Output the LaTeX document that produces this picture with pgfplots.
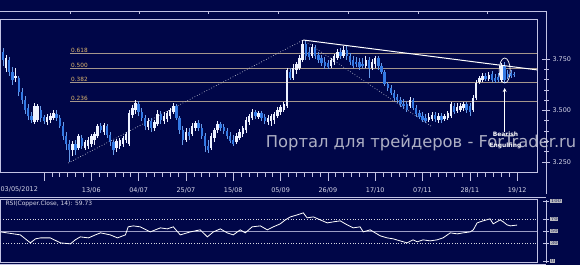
\documentclass[border=0pt]{standalone}
\usepackage{pgfplots}
\pgfplotsset{compat=1.18}
\usepackage{pgfplotstable}
\usepackage{fontspec}
\setmainfont{DejaVu Sans}
\usetikzlibrary{arrows.meta}
\definecolor{bg}{RGB}{0,6,72}
\definecolor{frame}{RGB}{195,195,228}
\definecolor{candleup}{RGB}{238,242,255}
\definecolor{candledn}{RGB}{52,122,228}
\definecolor{fibline}{RGB}{165,150,140}
\definecolor{fibtext}{RGB}{225,185,110}
\definecolor{labeltext}{RGB}{215,215,232}
\definecolor{boxfill}{RGB}{185,185,190}

\pgfplotstableread{
d o h l c
1 3.706 3.769 3.687 3.755
4 3.658 3.706 3.638 3.668
10 3.444 3.536 3.434 3.522
11 3.454 3.532 3.444 3.522
14 3.444 3.483 3.430 3.468
15 3.454 3.488 3.439 3.473
16 3.464 3.502 3.454 3.488
22 3.308 3.352 3.279 3.337
24 3.318 3.386 3.308 3.376
26 3.318 3.357 3.308 3.347
27 3.328 3.371 3.313 3.357
28 3.337 3.386 3.323 3.376
29 3.357 3.396 3.332 3.386
30 3.376 3.434 3.366 3.425
32 3.396 3.439 3.381 3.430
36 3.318 3.362 3.298 3.352
37 3.328 3.366 3.313 3.357
38 3.337 3.376 3.323 3.366
39 3.357 3.396 3.342 3.386
40 3.337 3.502 3.328 3.488
41 3.478 3.527 3.464 3.512
42 3.502 3.551 3.483 3.536
46 3.420 3.464 3.405 3.449
48 3.415 3.454 3.400 3.444
49 3.434 3.502 3.425 3.483
51 3.449 3.493 3.434 3.473
52 3.459 3.498 3.444 3.488
53 3.473 3.512 3.459 3.502
54 3.493 3.536 3.483 3.522
58 3.357 3.415 3.347 3.396
60 3.386 3.439 3.376 3.425
61 3.415 3.449 3.400 3.439
66 3.318 3.391 3.308 3.376
67 3.366 3.415 3.347 3.405
68 3.405 3.449 3.391 3.434
74 3.347 3.391 3.337 3.376
75 3.366 3.410 3.357 3.396
76 3.386 3.425 3.371 3.415
77 3.405 3.468 3.391 3.454
78 3.444 3.483 3.430 3.473
79 3.464 3.507 3.454 3.493
81 3.468 3.498 3.459 3.488
84 3.444 3.478 3.430 3.464
85 3.449 3.483 3.425 3.473
86 3.454 3.493 3.434 3.483
87 3.473 3.517 3.464 3.502
88 3.493 3.527 3.478 3.517
89 3.502 3.541 3.493 3.532
90 3.522 3.706 3.512 3.697
92 3.658 3.726 3.648 3.706
93 3.697 3.735 3.677 3.726
94 3.706 3.769 3.697 3.755
95 3.745 3.842 3.735 3.823
98 3.765 3.823 3.755 3.808
104 3.716 3.755 3.706 3.745
105 3.735 3.774 3.721 3.765
106 3.755 3.799 3.745 3.784
108 3.765 3.813 3.755 3.794
115 3.716 3.765 3.706 3.745
117 3.706 3.750 3.697 3.735
118 3.726 3.765 3.706 3.755
129 3.522 3.566 3.512 3.551
135 3.454 3.488 3.444 3.468
136 3.459 3.493 3.449 3.478
138 3.454 3.488 3.439 3.473
140 3.459 3.483 3.449 3.473
141 3.464 3.498 3.454 3.488
142 3.473 3.541 3.464 3.532
144 3.498 3.536 3.488 3.517
145 3.502 3.536 3.493 3.522
146 3.512 3.541 3.498 3.532
149 3.502 3.575 3.493 3.561
150 3.561 3.648 3.551 3.634
151 3.638 3.668 3.629 3.658
152 3.648 3.682 3.638 3.668
154 3.653 3.687 3.643 3.672
158 3.648 3.731 3.638 3.716
}\upcandles

\pgfplotstableread{
d o h l c
0 3.784 3.803 3.716 3.745
2 3.745 3.760 3.668 3.687
3 3.687 3.711 3.624 3.648
5 3.658 3.668 3.570 3.590
6 3.590 3.609 3.532 3.551
7 3.551 3.570 3.483 3.502
8 3.512 3.532 3.454 3.473
9 3.473 3.493 3.439 3.454
12 3.502 3.522 3.444 3.464
13 3.468 3.478 3.434 3.449
17 3.483 3.502 3.449 3.464
18 3.464 3.478 3.415 3.425
19 3.425 3.444 3.357 3.376
20 3.376 3.396 3.308 3.337
21 3.337 3.357 3.250 3.308
23 3.337 3.357 3.284 3.308
25 3.366 3.381 3.313 3.328
31 3.425 3.439 3.391 3.405
33 3.425 3.434 3.366 3.381
34 3.381 3.396 3.328 3.347
35 3.347 3.357 3.284 3.308
43 3.532 3.546 3.473 3.493
44 3.493 3.512 3.449 3.464
45 3.464 3.478 3.405 3.425
47 3.449 3.464 3.396 3.415
50 3.483 3.498 3.434 3.454
55 3.522 3.532 3.454 3.464
56 3.464 3.473 3.386 3.405
57 3.405 3.425 3.332 3.357
59 3.396 3.415 3.357 3.376
62 3.439 3.454 3.400 3.415
63 3.415 3.434 3.362 3.376
64 3.376 3.391 3.298 3.328
65 3.328 3.357 3.294 3.308
69 3.434 3.444 3.400 3.415
70 3.420 3.434 3.386 3.400
71 3.400 3.415 3.362 3.376
72 3.376 3.396 3.342 3.352
73 3.357 3.381 3.328 3.337
80 3.493 3.502 3.459 3.473
82 3.488 3.498 3.449 3.464
83 3.468 3.483 3.434 3.449
91 3.687 3.706 3.648 3.658
96 3.823 3.837 3.745 3.765
97 3.784 3.808 3.745 3.760
99 3.803 3.818 3.750 3.765
100 3.769 3.784 3.731 3.745
101 3.755 3.769 3.716 3.731
102 3.735 3.760 3.701 3.716
103 3.731 3.745 3.701 3.711
107 3.784 3.803 3.750 3.765
109 3.794 3.813 3.745 3.765
110 3.765 3.779 3.721 3.735
111 3.745 3.765 3.706 3.716
112 3.735 3.760 3.711 3.726
113 3.735 3.755 3.697 3.711
114 3.726 3.755 3.706 3.716
116 3.745 3.760 3.658 3.706
119 3.755 3.765 3.697 3.716
120 3.716 3.731 3.677 3.687
121 3.687 3.697 3.619 3.629
122 3.629 3.638 3.595 3.609
123 3.609 3.624 3.575 3.585
124 3.585 3.600 3.546 3.561
125 3.566 3.580 3.536 3.551
126 3.551 3.566 3.517 3.532
127 3.532 3.556 3.507 3.522
128 3.532 3.546 3.493 3.502
130 3.551 3.561 3.502 3.512
131 3.512 3.527 3.468 3.483
132 3.488 3.502 3.459 3.468
133 3.473 3.493 3.444 3.454
134 3.464 3.483 3.439 3.449
137 3.478 3.493 3.444 3.459
139 3.473 3.488 3.439 3.454
143 3.522 3.536 3.483 3.493
147 3.532 3.541 3.488 3.502
148 3.522 3.536 3.473 3.493
153 3.668 3.682 3.643 3.653
155 3.677 3.692 3.638 3.648
156 3.658 3.677 3.634 3.643
157 3.663 3.682 3.638 3.648
159 3.716 3.735 3.634 3.648
160 3.677 3.697 3.653 3.663
161 3.682 3.697 3.658 3.668
162 3.677 3.687 3.663 3.672
}\dncandles

\pgfplotstableread{
d rsi
-0.8 48.3
5.5 43.3
8.7 30.0
10.3 36.7
11.9 38.3
15.0 38.3
18.2 30.0
21.4 28.3
22.9 35.0
24.5 40.0
27.1 38.3
29.3 43.3
30.9 46.7
34.0 43.3
36.3 38.3
38.8 43.3
39.7 56.7
41.3 58.3
43.5 56.7
46.7 48.3
49.9 55.0
52.1 53.3
54.0 56.7
56.2 43.3
59.4 48.3
62.5 51.7
64.8 40.0
66.7 48.3
68.9 53.3
71.1 46.7
73.0 43.3
75.2 51.7
76.8 46.7
79.0 56.7
81.6 58.3
83.8 51.7
85.7 56.7
87.9 61.7
89.5 68.3
91.1 73.3
93.3 76.7
95.2 80.0
96.4 71.7
98.4 73.3
100.6 68.3
102.8 63.3
104.7 65.0
106.9 66.7
109.1 60.0
111.0 55.0
113.2 56.7
114.2 48.3
116.4 51.7
118.0 46.7
119.6 41.7
121.8 38.3
123.7 36.7
125.9 33.3
128.1 30.0
130.0 35.0
131.3 31.7
133.2 35.0
135.4 33.3
137.6 35.0
139.5 38.3
141.8 46.7
144.0 45.0
145.9 46.7
148.1 48.3
149.1 51.7
150.3 63.3
152.2 66.7
154.4 70.0
155.4 61.7
157.6 68.3
158.6 65.0
159.8 60.0
160.8 58.3
163.0 59.7
}\rsidata

\pgfplotsset{
  candle/.style 2 args={draw=none, mark=none, forget plot,
    error bars/.cd, y dir=plus, y explicit, error mark=none,
    error bar style={draw=#1, line width=#2, line cap=butt}},
}

\begin{document}
\begin{tikzpicture}[x=1bp,y=1bp]
\fill[bg] (0,0) rectangle (580,265);
% outer frame lines
\draw[frame, line width=0.8pt] (0,254) -- (546,254) -- (546,71);
\foreach \xx in {70,139,208,278,348,418,487} \draw[frame, line width=0.6pt] (\xx,254) -- (\xx,251);
\draw[frame, line width=0.8pt] (0,67) -- (546,67);
\draw[frame, line width=0.8pt] (0,0.5) -- (546,0.5);

% right price scale
\begin{axis}[
  at={(537bp,92bp)}, anchor=south west,
  width=9bp, height=154bp, scale only axis,
  xmin=0, xmax=1, ymin=3.197, ymax=3.944,
  axis x line=none, axis y line*=right,
  axis line style={frame, line width=0.8pt},
  ytick={3.25,3.5,3.75}, minor y tick num=4,
  tick align=center, major tick length=8bp, minor tick length=5bp,
  tick style={frame, line width=0.6pt},
  yticklabel style={font=\fontsize{6.5}{7}\selectfont, text=labeltext, xshift=-1bp,
    /pgf/number format/.cd, fixed, fixed zerofill, precision=3, assume math mode=true},
]
\end{axis}

% main price panel
\begin{axis}[
  at={(0bp,92bp)}, anchor=south west,
  width=537bp, height=154bp, scale only axis,
  xmin=-0.82, xmax=169.3, ymin=3.197, ymax=3.944,
  axis line style={frame, line width=0.8pt},
  xtick={13,28,43,58,73,88,103,118,133,148,163},
  xticklabels={,13/06,04/07,25/07,15/08,05/09,26/09,17/10,07/11,28/11,19/12},
  minor x tick num=5,
  xtick pos=bottom, tick align=outside,
  major tick length=8bp, minor tick length=4bp,
  tick style={frame, line width=0.6pt},
  ytick=\empty,
  xticklabel style={font=\fontsize{6.5}{7}\selectfont, text=labeltext, yshift=-3bp},
  clip=true,
]
% fibonacci levels
\addplot[fibline, line width=0.9pt] coordinates {(21.36,3.779) (169.3,3.779)};
\addplot[fibline, line width=0.9pt] coordinates {(21.36,3.706) (169.3,3.706)};
\addplot[fibline, line width=0.9pt] coordinates {(21.36,3.634) (169.3,3.634)};
\addplot[fibline, line width=0.9pt] coordinates {(21.36,3.546) (169.3,3.546)};
\node[anchor=south west, inner sep=0.6pt, text=fibtext, font=\fontsize{5.8}{6}\selectfont] at (axis cs:21.36,3.779) {0.618};
\node[anchor=south west, inner sep=0.6pt, text=fibtext, font=\fontsize{5.8}{6}\selectfont] at (axis cs:21.36,3.706) {0.500};
\node[anchor=south west, inner sep=0.6pt, text=fibtext, font=\fontsize{5.8}{6}\selectfont] at (axis cs:21.36,3.634) {0.382};
\node[anchor=south west, inner sep=0.6pt, text=fibtext, font=\fontsize{5.8}{6}\selectfont] at (axis cs:21.36,3.546) {0.236};
% dotted trend lines
\addplot[white!75!bg, dotted, line width=0.7pt] coordinates {(20.72,3.245) (95.2,3.842)};
\addplot[white!75!bg, dotted, line width=0.7pt] coordinates {(95.2,3.842) (136.1,3.420)};
% candles: wicks
\addplot[candle={candledn!75!white}{0.7pt}]
  table[x=d, y=l, y error plus expr=\thisrow{h}-\thisrow{l}] {\dncandles};
\addplot[candle={candleup}{0.7pt}]
  table[x=d, y=l, y error plus expr=\thisrow{h}-\thisrow{l}] {\upcandles};
% candles: bodies
\addplot[candle={candledn}{2.4bp}]
  table[x=d, y=c, y error plus expr=\thisrow{o}-\thisrow{c}] {\dncandles};
\addplot[candle={candleup}{2.4bp}]
  table[x=d, y=o, y error plus expr=\thisrow{c}-\thisrow{o}] {\upcandles};
% resistance line
\addplot[white, line width=1pt] coordinates {(95.2,3.842) (169.3,3.697)};
% pattern annotation
\draw[white, line width=0.7pt] (axis cs:159.05,3.694) ellipse [x radius=5.5bp, y radius=12.5bp];
\draw[white, line width=0.8pt, -{Stealth[length=4bp,width=4bp]}] (axis cs:159.05,3.396) -- (axis cs:159.05,3.609);
\node[text=white, font=\bfseries\fontsize{6}{11}\selectfont, align=center, inner sep=0pt] at (axis cs:159.3,3.353) {Bearish\\Engulfing};
\end{axis}
\node[anchor=west, inner sep=0pt, text=labeltext, font=\fontsize{6.5}{7}\selectfont] at (0,75) {03/05/2012};

% RSI panel
\begin{axis}[
  at={(537bp,2bp)}, anchor=south west,
  width=9bp, height=63bp, scale only axis,
  xmin=0, xmax=1, ymin=-3.3, ymax=101.7,
  axis x line=none, axis y line*=right,
  axis line style={frame, line width=0.8pt},
  ytick={0,30,50,70,100},
  tick align=center, major tick length=6bp,
  tick style={frame, line width=0.6pt},
  yticklabel style={font=\fontsize{5.5}{6}\selectfont, text=bg, fill=boxfill, inner sep=0.7pt, anchor=west, xshift=1bp},
]
\end{axis}
\begin{axis}[
  at={(0bp,2bp)}, anchor=south west,
  width=537bp, height=63bp, scale only axis,
  xmin=-0.82, xmax=169.3, ymin=-3.3, ymax=101.7,
  axis line style={frame, line width=0.8pt},
  xtick=\empty, ytick=\empty,
]
\addplot[white!85!bg, dotted, line width=0.7pt] coordinates {(-0.82,70) (169.3,70)};
\addplot[white!85!bg, dotted, line width=0.7pt] coordinates {(-0.82,30) (169.3,30)};
\addplot[frame!80!bg, line width=0.6pt] coordinates {(-0.82,50) (169.3,50)};
\addplot[white, line width=0.8pt] table[x=d, y=rsi] {\rsidata};
\end{axis}
\node[anchor=west, inner sep=0pt, text=labeltext, font=\fontsize{6}{7}\selectfont] at (5,61) {RSI(Copper.Close, 14): 59.73};

% watermark
\node[text=white!80!bg, opacity=0.85, font=\fontsize{16.4}{17}\selectfont, inner sep=0pt] at (421,122) {Портал для трейдеров - ForTrader.ru};
\end{tikzpicture}
\end{document}
